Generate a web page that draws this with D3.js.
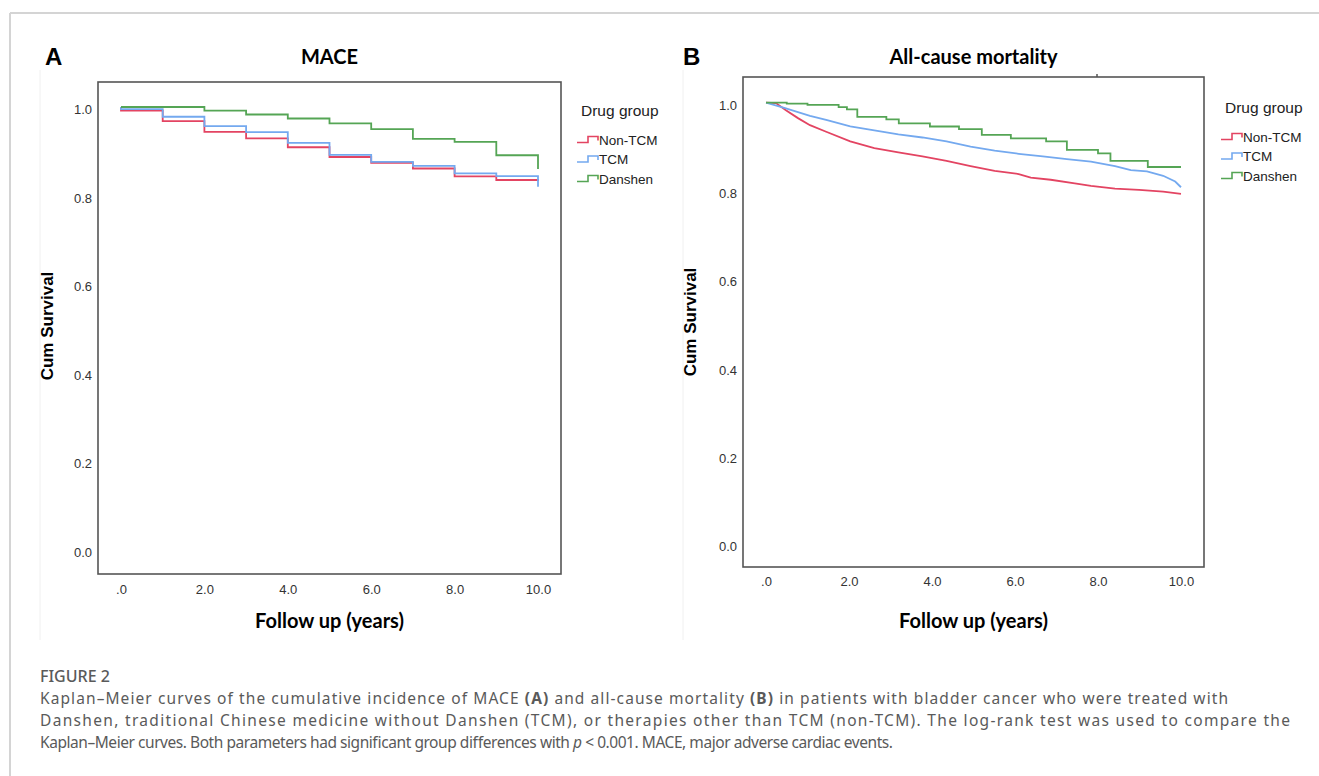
<!DOCTYPE html>
<html>
<head>
<meta charset="utf-8">
<script src="https://cdn.jsdelivr.net/npm/d3@7"></script>
<style>
  body { margin: 0; background: #fff; }
  svg { display: block; }
</style>
</head>
<body>
<div id="chart"></div>
<script>
// tick values
const yearTicks = [0, 2, 4, 6, 8, 10];
const survTicks = [0, 0.2, 0.4, 0.6, 0.8, 1.0];
const groups = ["Non-TCM", "TCM", "Danshen"];
const groupColors = ["#e34462", "#74a9ef", "#55a555"];

// panel A: MACE (steps at whole years)
const maceNonTcmT = [0, 0, 1, 2, 3, 4, 5, 6, 7, 8, 9, 10];
const maceNonTcmS = [1.0, 0.992, 0.968, 0.944, 0.929, 0.909, 0.887, 0.874, 0.861, 0.843, 0.835, 0.833];
const maceTcmT = [0, 0, 1, 2, 3, 4, 5, 6, 7, 8, 9, 10];
const maceTcmS = [1.0, 0.995, 0.978, 0.957, 0.943, 0.919, 0.892, 0.876, 0.867, 0.850, 0.844, 0.820];
const maceDanshenT = [0, 2, 3, 4, 5, 6, 7, 8, 9, 10];
const maceDanshenS = [1.0, 0.992, 0.983, 0.974, 0.963, 0.950, 0.928, 0.921, 0.891, 0.860];

// panel B: all-cause mortality
const mortNonTcmT = [0, 0.24, 0.48, 0.77, 1.06, 1.45, 2.03, 2.61, 3.19, 3.77, 4.35, 4.93, 5.51, 6.09, 6.38, 6.86, 7.44, 7.83, 8.41, 8.99, 9.57, 10];
const mortNonTcmS = [1.0, 0.999, 0.983, 0.965, 0.949, 0.934, 0.912, 0.897, 0.887, 0.878, 0.868, 0.856, 0.845, 0.838, 0.830, 0.825, 0.817, 0.811, 0.805, 0.802, 0.798, 0.793];
const mortTcmT = [0, 0.48, 1.06, 1.45, 2.03, 2.61, 3.19, 3.77, 4.35, 4.93, 5.51, 6.09, 6.67, 7.25, 7.83, 8.41, 8.79, 9.18, 9.57, 9.86, 10];
const mortTcmS = [1.0, 0.987, 0.970, 0.961, 0.946, 0.937, 0.928, 0.921, 0.912, 0.900, 0.891, 0.884, 0.878, 0.872, 0.866, 0.856, 0.847, 0.844, 0.834, 0.821, 0.808];
const mortDanshenT = [0, 0.5, 1.0, 1.75, 1.95, 2.2, 2.9, 3.2, 3.95, 4.65, 5.2, 5.9, 6.75, 7.25, 8.0, 8.3, 9.2, 10];
const mortDanshenS = [1.0, 0.998, 0.995, 0.99, 0.985, 0.968, 0.962, 0.953, 0.946, 0.94, 0.927, 0.919, 0.912, 0.893, 0.885, 0.868, 0.854, 0.854];

const width = 1319;
const height = 776;

const svg = d3.select("#chart")
  .append("svg")
  .attr("width", width)
  .attr("height", height)
  .attr("viewBox", [0, 0, width, height]);

// outer figure frame
svg.append("line").attr("x1", 10).attr("x2", width).attr("y1", 13).attr("y2", 13)
  .attr("stroke", "#d4d4d4").attr("stroke-width", 2);
svg.append("line").attr("x1", 10).attr("x2", 10).attr("y1", 13).attr("y2", height)
  .attr("stroke", "#d4d4d4").attr("stroke-width", 2);

const zip = (t, s) => t.map((d, i) => [d, s[i]]);

function drawPanel(p) {
  const g = svg.append("g");

  // faint edge of the embedded image
  g.append("line").attr("x1", p.edgeX).attr("x2", p.edgeX)
    .attr("y1", 70).attr("y2", 640).attr("stroke", "#f0f0f0");

  const x = d3.scaleLinear().domain([0, 10]).range([p.x0, p.x10]);
  const y = d3.scaleLinear().domain([0, 1]).range([p.y0, p.y1]);

  // panel letter + title
  g.append("text").attr("x", p.letterX).attr("y", 65)
    .attr("font-family", "Liberation Sans, Arial, sans-serif")
    .attr("font-weight", "bold").attr("font-size", 24).text(p.letter);
  g.append("text").attr("x", (p.boxL + p.boxR) / 2).attr("y", 64)
    .attr("text-anchor", "middle")
    .attr("font-family", "Lato, sans-serif")
    .attr("font-weight", "bold").attr("font-size", 20).text(p.title);

  // y axis labels (SPSS draws the labels a little under the tick value)
  const yAxis = g.append("g")
    .attr("transform", `translate(${p.boxL},${p.labelShift})`)
    .call(d3.axisLeft(y).tickValues(survTicks).tickSize(0).tickPadding(6)
      .tickFormat(d3.format(".1f")));
  yAxis.select(".domain").remove();

  const xAxis = g.append("g")
    .attr("transform", `translate(0,${p.boxB})`)
    .call(d3.axisBottom(x).tickValues(yearTicks).tickSize(0).tickPadding(p.xPad)
      .tickFormat((d) => (d === 0 ? ".0" : d3.format(".1f")(d))));
  xAxis.select(".domain").remove();

  g.selectAll(".tick text")
    .attr("font-family", "Liberation Sans, Arial, sans-serif")
    .attr("font-size", 13)
    .attr("fill", "#333");

  // plot box
  g.append("rect")
    .attr("x", p.boxL).attr("y", p.boxT)
    .attr("width", p.boxR - p.boxL).attr("height", p.boxB - p.boxT)
    .attr("fill", "none").attr("stroke", "#555").attr("stroke-width", 1.6);

  // axis titles
  g.append("text")
    .attr("transform", `translate(${p.yTitleX},${p.yTitleY}) rotate(-90)`)
    .attr("text-anchor", "middle").attr("dominant-baseline", "central")
    .attr("font-family", "Liberation Sans, Arial, sans-serif")
    .attr("font-weight", "bold").attr("font-size", 17).text("Cum Survival");
  g.append("text").attr("x", (p.boxL + p.boxR) / 2).attr("y", 628)
    .attr("text-anchor", "middle")
    .attr("font-family", "Lato, sans-serif")
    .attr("font-weight", "bold").attr("font-size", 20).text("Follow up (years)");

  // survival curves
  p.series.forEach((s, i) => {
    const line = d3.line()
      .x((d) => x(d[0]))
      .y((d) => y(d[1]))
      .curve(s.curve);
    g.append("path")
      .datum(s.data)
      .attr("fill", "none")
      .attr("stroke", groupColors[i])
      .attr("stroke-width", 1.8)
      .attr("d", line);
  });

  // legend
  g.append("text").attr("x", p.legTitleX).attr("y", p.legTitleY)
    .attr("font-family", "Liberation Sans, Arial, sans-serif")
    .attr("font-size", 15.5).attr("fill", "#222").text("Drug group");

  groups.forEach((name, i) => {
    const cy = p.legY + i * p.legStep;
    const lx = p.legSymX;
    g.append("path")
      .attr("d", `M${lx},${cy + 2.5}H${lx + 11}V${cy - 3.5}H${lx + 21}V${cy + 0.5}`)
      .attr("fill", "none").attr("stroke", groupColors[i]).attr("stroke-width", 1.6);
    g.append("text").attr("x", lx + 22).attr("y", cy)
      .attr("dominant-baseline", "central")
      .attr("font-family", "Liberation Sans, Arial, sans-serif")
      .attr("font-size", 13.5).attr("fill", "#222").text(name);
  });

  return g;
}

drawPanel({
  letter: "A", letterX: 45, title: "MACE", edgeX: 40,
  boxL: 98, boxR: 561, boxT: 82, boxB: 574,
  x0: 121, x10: 538, y0: 549.5, y1: 107, labelShift: 2.5, xPad: 11,
  yTitleX: 47, yTitleY: 326,
  legTitleX: 581, legTitleY: 116, legSymX: 577, legY: 140, legStep: 19.5,
  series: [
    { data: zip(maceNonTcmT, maceNonTcmS), curve: d3.curveStepAfter },
    { data: zip(maceTcmT, maceTcmS), curve: d3.curveStepAfter },
    { data: zip(maceDanshenT, maceDanshenS), curve: d3.curveStepAfter },
  ],
});

const panelB = drawPanel({
  letter: "B", letterX: 683, title: "All-cause mortality", edgeX: 683,
  boxL: 743, boxR: 1204, boxT: 77, boxB: 567,
  x0: 766, x10: 1181, y0: 543, y1: 102.7, labelShift: 3, xPad: 10,
  yTitleX: 690, yTitleY: 322,
  legTitleX: 1225, legTitleY: 113, legSymX: 1221, legY: 137, legStep: 19.5,
  series: [
    { data: zip(mortNonTcmT, mortNonTcmS), curve: d3.curveLinear },
    { data: zip(mortTcmT, mortTcmS), curve: d3.curveLinear },
    { data: zip(mortDanshenT, mortDanshenS), curve: d3.curveStepAfter },
  ],
});

// small stray mark on top border of panel B
panelB.append("line").attr("x1", 1097).attr("x2", 1097).attr("y1", 74).attr("y2", 77)
  .attr("stroke", "#555").attr("stroke-width", 1.5);

// caption
const cap = svg.append("g")
  .attr("font-family", "Noto Sans, sans-serif")
  .attr("fill", "#5a5a5a");

cap.append("text").attr("x", 40).attr("y", 682)
  .attr("font-size", 16).attr("font-weight", 500)
  .text("FIGURE 2");

const captionLines = [
  [["Kaplan–Meier curves of the cumulative incidence of MACE ", ""], ["(A)", "b"],
   [" and all-cause mortality ", ""], ["(B)", "b"],
   [" in patients with bladder cancer who were treated with", ""]],
  [["Danshen, traditional Chinese medicine without Danshen (TCM), or therapies other than TCM (non-TCM). The log-rank test was used to compare the", ""]],
  [["Kaplan–Meier curves. Both parameters had significant group differences with ", ""], ["p", "i"],
   [" < 0.001. MACE, major adverse cardiac events.", ""]],
];
const captionY = [704, 726, 748];
// line lengths as set in the original page
const captionWidths = [1188, 1250, 853];

captionLines.forEach((parts, i) => {
  const t = cap.append("text").attr("x", 40).attr("y", captionY[i])
    .attr("font-size", 15.5)
    .attr("textLength", captionWidths[i])
    .attr("lengthAdjust", "spacing");
  parts.forEach(([str, style]) => {
    t.append("tspan")
      .attr("font-weight", style === "b" ? "bold" : null)
      .attr("font-style", style === "i" ? "italic" : null)
      .text(str);
  });
});
</script>
</body>
</html>
